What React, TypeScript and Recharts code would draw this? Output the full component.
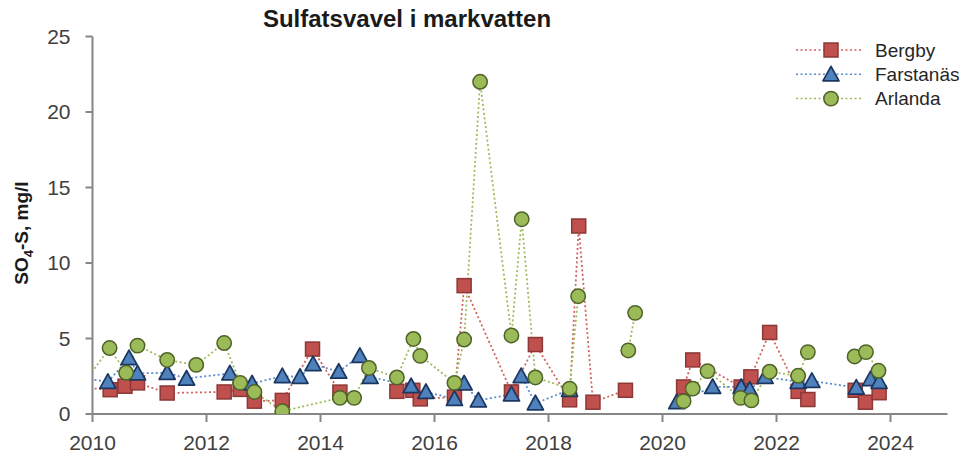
import { Line, LineChart, XAxis, YAxis } from 'recharts';

// provtagningar (år som decimaltal) och SO4-S i mg/l; null = lucka i serien
const BERGBY_YEARS = [
  2009.8, 2010.31, 2010.57, 2010.79, 2011.31, 2012.31, 2012.59, 2012.84, 2013.33, 2013.86, 2014.34, 2014.8,
  2015.34, 2015.62, 2015.75, 2016.35, 2016.52, 2017.35, 2017.77, 2018.37, 2018.53, 2018.78, 2019.35, 2019.9,
  2020.37, 2020.53, 2021.38, 2021.55, 2021.88, 2022.38, 2022.55, 2023.0, 2023.38, 2023.56, 2023.8,
];
const BERGBY_VALUES = [
  1.75, 1.61, 1.84, 2.06, 1.39, 1.46, 1.63, 0.85, 0.9, 4.3, 1.45, null,
  1.5, 1.57, 1.0, 1.12, 8.5, 1.46, 4.6, 0.94, 12.45, 0.78, 1.57, null,
  1.79, 3.58, 1.79, 2.46, 5.4, 1.5, 0.96, null, 1.57, 0.78, 1.41,
];

const FARSTANAS_YEARS = [
  2009.8, 2010.27, 2010.64, 2010.79, 2011.31, 2011.65, 2012.41, 2012.8, 2013.33, 2013.64, 2013.87, 2014.32,
  2014.69, 2014.87, 2015.59, 2015.85, 2016.35, 2016.52, 2016.77, 2017.35, 2017.52, 2017.77, 2018.37, 2019.3,
  2020.25, 2020.88, 2021.38, 2021.53, 2021.8, 2022.38, 2022.62, 2023.4, 2023.65, 2023.8,
];
const FARSTANAS_VALUES = [
  2.4, 2.13, 3.7, 2.69, 2.73, 2.35, 2.69, 2.02, 2.51, 2.46, 3.3, 2.8,
  3.85, 2.46, 1.84, 1.46, 1.0, 2.02, 0.9, 1.3, 2.51, 0.71, 1.6, null,
  0.78, 1.79, 1.79, 1.61, 2.46, 2.13, 2.19, 1.75, 2.31, 2.13,
];

const ARLANDA_YEARS = [
  2009.8, 2010.3, 2010.59, 2010.79, 2011.31, 2011.82, 2012.31, 2012.59, 2012.84, 2013.33, 2014.34, 2014.59,
  2014.85, 2015.34, 2015.63, 2015.75, 2016.35, 2016.52, 2016.8, 2017.35, 2017.53, 2017.77, 2018.37, 2018.52,
  2019.0, 2019.4, 2019.52, 2019.9, 2020.37, 2020.53, 2020.79, 2021.37, 2021.56, 2021.88, 2022.38, 2022.55,
  2023.0, 2023.37, 2023.57, 2023.79,
];
const ARLANDA_VALUES = [
  1.8, 4.37, 2.73, 4.53, 3.58, 3.25, 4.7, 2.06, 1.46, 0.18, 1.07, 1.07,
  3.05, 2.42, 4.97, 3.85, 2.06, 4.93, 22.0, 5.2, 12.9, 2.42, 1.68, 7.8,
  null, 4.21, 6.7, null, 0.85, 1.68, 2.84, 1.07, 0.9, 2.8, 2.53, 4.1,
  null, 3.81, 4.1, 2.86,
];

const X_TICKS = [2010, 2012, 2014, 2016, 2018, 2020, 2022, 2024];
const Y_TICKS = [0, 5, 10, 15, 20, 25];

const toPoints = (years: number[], values: (number | null)[]) =>
  years.map((x, i) => ({ x, y: values[i] }));

type Shape = 'square' | 'triangle' | 'circle';

const SERIES: Array<{ name: string; shape: Shape; line: string; fill: string; edge: string; data: { x: number; y: number | null }[] }> = [
  { name: 'Bergby', shape: 'square', line: '#D0605C', fill: '#C0504D', edge: '#8C3836', data: toPoints(BERGBY_YEARS, BERGBY_VALUES) },
  { name: 'Farstanäs', shape: 'triangle', line: '#5B8BD0', fill: '#4F81BD', edge: '#1B3660', data: toPoints(FARSTANAS_YEARS, FARSTANAS_VALUES) },
  { name: 'Arlanda', shape: 'circle', line: '#9BBB59', fill: '#9BBB59', edge: '#4F6228', data: toPoints(ARLANDA_YEARS, ARLANDA_VALUES) },
];

const FONT = '"Liberation Sans", Arial, sans-serif';

function Marker(props: { shape: Shape; cx: number; cy: number; fill: string; edge: string }) {
  const { shape, cx, cy, fill, edge } = props;
  if (shape === 'square') {
    return <rect x={cx - 7} y={cy - 7} width={14} height={14} fill={fill} stroke={edge} strokeWidth={1.5} />;
  }
  if (shape === 'triangle') {
    return (
      <polygon
        points={`${cx},${cy - 8} ${cx + 8},${cy + 6.5} ${cx - 8},${cy + 6.5}`}
        fill={fill}
        stroke={edge}
        strokeWidth={1.75}
        strokeLinejoin="round"
      />
    );
  }
  return <circle cx={cx} cy={cy} r={7.2} fill={fill} stroke={edge} strokeWidth={1.5} />;
}

// legenden ritas själv, Recharts Legend reserverar annars plats i diagrammet
function LegendBox() {
  return (
    <svg width={170} height={80} style={{ position: 'absolute', left: 790, top: 36, fontFamily: FONT }}>
      {SERIES.map((s, i) => {
        const y = 14 + i * 24.3;
        return (
          <g key={s.name}>
            <line x1={6} x2={72} y1={y} y2={y} stroke={s.line} strokeWidth={1.5} strokeDasharray="2 2.5" />
            <Marker shape={s.shape} cx={41} cy={y} fill={s.fill} edge={s.edge} />
            <text x={85} y={y + 6.5} fontSize={19} fill="#262626">
              {s.name}
            </text>
          </g>
        );
      })}
    </svg>
  );
}

export default function App() {
  return (
    <div style={{ position: 'absolute', left: 0, top: 0, width: 962, height: 457, background: '#fff', fontFamily: FONT }}>
      <div
        style={{
          position: 'absolute',
          left: 407,
          top: 4,
          transform: 'translateX(-50%)',
          fontSize: 24,
          lineHeight: '30px',
          fontWeight: 'bold',
          color: '#1a1a1a',
          whiteSpace: 'nowrap',
        }}
      >
        Sulfatsvavel i markvatten
      </div>
      <LineChart width={962} height={457} margin={{ top: 36.5, right: 14.5, bottom: 3, left: 32.5 }}>
        <XAxis
          type="number"
          dataKey="x"
          domain={[2010, 2025]}
          allowDataOverflow
          ticks={X_TICKS}
          tickSize={8}
          tickMargin={13}
          height={40}
          axisLine={{ stroke: '#868686', strokeWidth: 2 }}
          tickLine={{ stroke: '#868686', strokeWidth: 2 }}
          tick={{ fontSize: 21, fill: '#404040', fontFamily: FONT }}
        />
        <YAxis
          type="number"
          domain={[0, 25]}
          allowDataOverflow
          ticks={Y_TICKS}
          tickSize={7}
          tickMargin={15}
          width={60}
          axisLine={{ stroke: '#868686', strokeWidth: 2 }}
          tickLine={{ stroke: '#868686', strokeWidth: 2 }}
          tick={{ fontSize: 21, fill: '#404040', fontFamily: FONT }}
          label={{
            content: () => (
              <text
                x={28}
                y={233}
                transform="rotate(-90 28 233)"
                textAnchor="middle"
                fontSize={19}
                fontWeight="bold"
                fill="#1a1a1a"
                fontFamily={FONT}
              >
                SO
                <tspan fontSize={13} dy={5}>
                  4
                </tspan>
                <tspan dy={-5}>-S, mg/l</tspan>
              </text>
            ),
          }}
        />
        {SERIES.map((s) => (
          <Line
            key={s.name}
            name={s.name}
            data={s.data}
            dataKey="y"
            type="linear"
            stroke={s.line}
            strokeWidth={1.75}
            strokeDasharray="2 2.5"
            connectNulls={false}
            isAnimationActive={false}
            activeDot={false}
            dot={(p: any) => {
              if (p.cx == null || p.cy == null || p.value == null) return <g key={`${s.name}-${p.index}`} />;
              return (
                <g key={`${s.name}-${p.index}`}>
                  <Marker shape={s.shape} cx={p.cx} cy={p.cy} fill={s.fill} edge={s.edge} />
                </g>
              );
            }}
          />
        ))}
      </LineChart>
      <LegendBox />
    </div>
  );
}
